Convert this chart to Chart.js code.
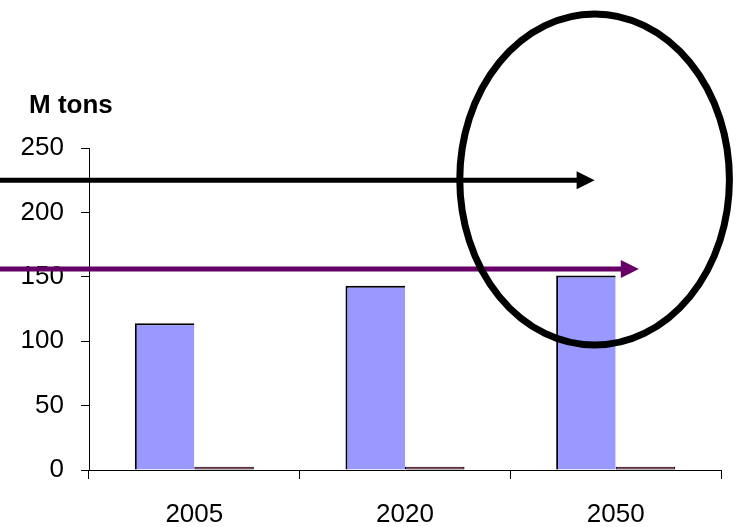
<!DOCTYPE html>
<html>
<head>
<meta charset="utf-8">
<script src="https://cdn.jsdelivr.net/npm/chart.js@4"></script>
<style>
  html, body { margin: 0; padding: 0; background: #fff; }
  #wrap { width: 736px; height: 527px; }
</style>
</head>
<body>
<div id="wrap"><canvas id="chart" width="736" height="527"></canvas></div>
<script>
const years = ['2005', '2020', '2050'];
const demand = [114, 143, 151];
const other = [2.5, 2.5, 2.5];
const yMin = 0;
const yMax = 250;
const yStep = 50;
const unitLabel = 'M tons';

const FONT = "'Liberation Sans', Arial, sans-serif";

// arrows and ring drawn on top, placed through the scales
const arrows = [
  { value: 225, to: 1.9, color: '#000000', width: 5 },
  { value: 156, to: 2.11, color: '#660066', width: 5 }
];
const ring = { x: 1.9, value: 225.5, rx: 0.64, ry: 128.5 };

const overlay = {
  id: 'overlay',
  afterDraw(chart) {
    const ctx = chart.ctx;
    const xs = chart.scales.x;
    const ys = chart.scales.y;
    ctx.save();

    arrows.forEach(a => {
      const py = ys.getPixelForValue(a.value);
      const tip = xs.getPixelForValue(a.to);
      ctx.strokeStyle = a.color;
      ctx.fillStyle = a.color;
      ctx.lineWidth = a.width;
      ctx.beginPath();
      ctx.moveTo(0, py);
      ctx.lineTo(tip - 16, py);
      ctx.stroke();
      ctx.beginPath();
      ctx.moveTo(tip, py);
      ctx.lineTo(tip - 18, py - 9);
      ctx.lineTo(tip - 18, py + 9);
      ctx.closePath();
      ctx.fill();
    });

    const cx = xs.getPixelForValue(ring.x);
    const cy = ys.getPixelForValue(ring.value);
    const rx = xs.getPixelForValue(ring.x + ring.rx) - cx;
    const ry = ys.getPixelForValue(ring.value - ring.ry) - cy;
    ctx.strokeStyle = '#000';
    ctx.lineWidth = 7;
    ctx.beginPath();
    ctx.ellipse(cx, cy, rx, ry, 0, 0, Math.PI * 2);
    ctx.stroke();

    ctx.fillStyle = '#000';
    ctx.font = 'bold 26px ' + FONT;
    ctx.textBaseline = 'alphabetic';
    ctx.textAlign = 'left';
    ctx.fillText(unitLabel, 29, 113);
    ctx.restore();
  }
};

new Chart(document.getElementById('chart').getContext('2d'), {
  type: 'bar',
  data: {
    labels: years,
    datasets: [
      {
        data: demand,
        backgroundColor: '#9999ff',
        borderColor: '#000',
        borderWidth: { top: 2, left: 2, right: 0, bottom: 0 },
        borderSkipped: false
      },
      {
        data: other,
        backgroundColor: '#8b2252',
        borderColor: '#000',
        borderWidth: 1,
        borderSkipped: false
      }
    ]
  },
  options: {
    responsive: false,
    animation: false,
    layout: { padding: { top: 148, right: 15, left: 0, bottom: 0 } },
    plugins: {
      legend: { display: false },
      tooltip: { enabled: false }
    },
    datasets: {
      bar: { categoryPercentage: 0.565, barPercentage: 1 }
    },
    scales: {
      x: {
        afterFit(s) { s.height = 57; },
        grid: {
          offset: true,
          drawOnChartArea: false,
          drawTicks: true,
          tickLength: 9,
          color: '#000',
          lineWidth: 1
        },
        border: { display: true, color: '#000', width: 1 },
        ticks: { color: '#000', font: { family: FONT, size: 26 }, padding: 20 }
      },
      y: {
        min: yMin,
        max: yMax,
        afterFit(s) { s.width = 89; },
        grid: {
          drawOnChartArea: false,
          drawTicks: true,
          tickLength: 8,
          color: '#000',
          lineWidth: 1
        },
        border: { display: true, color: '#000', width: 1 },
        ticks: {
          stepSize: yStep,
          color: '#000',
          font: { family: FONT, size: 26 },
          padding: 17
        }
      }
    }
  },
  plugins: [overlay]
});
</script>
</body>
</html>
